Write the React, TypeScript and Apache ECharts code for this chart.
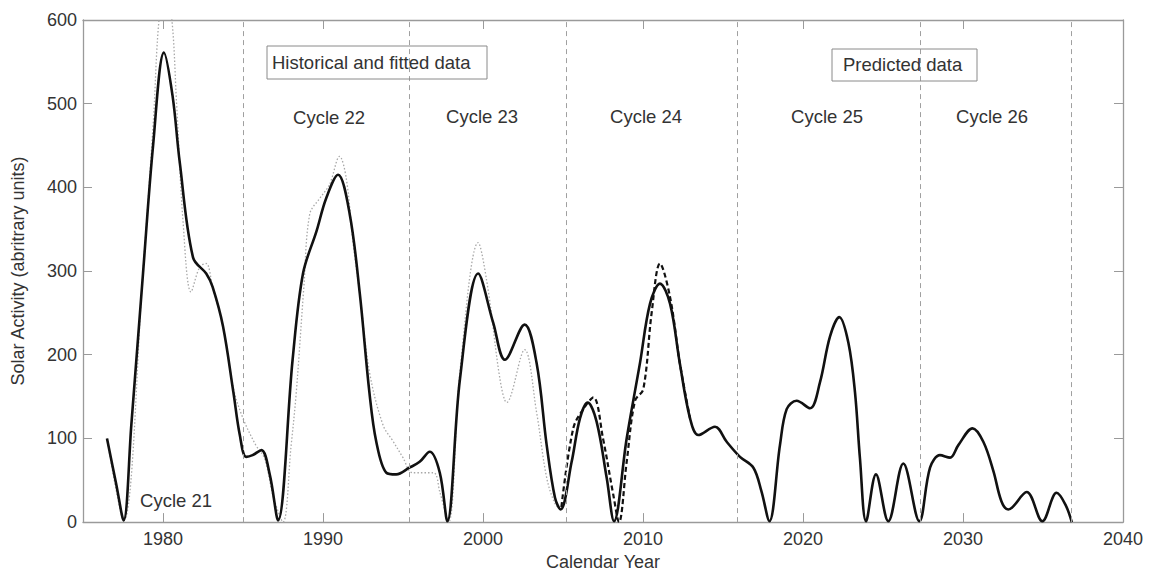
import React, { useEffect, useRef } from "react";
import * as echarts from "echarts";

const FONT = "'Liberation Sans', Arial, Helvetica, sans-serif";

const xTicks = [1980, 1990, 2000, 2010, 2020, 2030, 2040];
const cycleBoundaries = [1985.0, 1995.4, 2005.2, 2015.9, 2027.3, 2036.75];

// Main (fitted + predicted) solar activity curve
const mainYears = [
  1976.5, 1977.08, 1977.54, 1978.02, 1978.75, 1979.38, 1980.06, 1980.6, 1981.04, 1981.88,
  1982.7, 1983.1, 1983.75, 1984.4, 1984.8, 1985.2, 1985.6, 1986.15, 1986.67, 1987.19,
  1988.1, 1988.75, 1989.6, 1990.2, 1990.94, 1991.67, 1992.3, 1992.9, 1993.33, 1993.96,
  1994.58, 1995.4, 1996.04, 1996.67, 1997.3, 1997.77, 1998.56, 1999.7, 2000.64, 2001.37,
  2002.6, 2003.35, 2003.98, 2004.5, 2004.85, 2005.54, 2006.06, 2006.54, 2007.1, 2007.73,
  2008.19, 2008.98, 2009.81, 2010.44, 2011.06, 2011.69, 2012.3, 2012.94, 2013.46, 2014.5,
  2015.23, 2016.06, 2016.9, 2017.4, 2017.9, 2018.56, 2018.98, 2019.6, 2020.44, 2021.06,
  2021.69, 2022.27, 2022.84, 2023.25, 2023.56, 2023.94, 2024.56, 2025.33, 2026.27, 2027.27,
  2027.94, 2028.56, 2029.19, 2029.71, 2030.6, 2031.27, 2031.9, 2032.4, 2032.83, 2033.98,
  2034.96, 2035.85, 2036.4, 2036.8,
];
const mainValues = [
  100, 45, 2, 116, 297, 450, 561, 509, 431, 316,
  297, 281, 234, 155, 104, 78, 80, 86, 57, 2,
  194, 297, 348, 387, 415, 368, 273, 155, 96, 59,
  57, 65, 72, 84, 59, 1, 171, 297, 238, 194,
  236, 190, 92, 29, 15, 72, 124, 143, 120, 53,
  1, 100, 190, 261, 285, 261, 190, 124, 104, 114,
  96, 78, 65, 37, 1, 92, 135, 145, 136, 167,
  222, 245, 214, 155, 76, 1, 57, 1, 70, 1,
  65, 80, 77, 92, 112, 96, 61, 25, 15, 36,
  1, 35, 21, 0,
];

// Historical data (gray dotted), cycles 21-23
const histYears = [
  1976.5, 1977.54, 1978.75, 1979.4, 1979.75, 1980.1, 1980.5, 1980.85, 1981.25, 1981.75,
  1982.3, 1982.7, 1983.1, 1983.75, 1984.4, 1985.0, 1985.8, 1986.35, 1986.9, 1987.5,
  1988.0, 1988.33, 1988.8, 1989.17, 1989.8, 1990.4, 1991.04, 1991.46, 1991.9, 1992.3,
  1992.9, 1993.75, 1994.4, 1995.0, 1995.6, 1996.9, 1997.3, 1997.85, 1998.56, 1999.7,
  2000.3, 2001.06, 2001.48, 2002.6, 2003.35, 2003.98, 2004.5, 2004.85,
];
const histValues = [
  100, 2, 300, 480, 600, 625, 610, 500, 360, 275,
  305, 309, 281, 234, 160, 124, 92, 76, 30, 0,
  90, 155, 280, 368, 387, 403, 437, 410, 330, 273,
  180, 116, 96, 77, 59, 59, 36, 0, 180, 334,
  280, 171, 143, 206, 131, 53, 22, 15,
];

// Observed cycle 24 data (black dashed)
const obsYears = [
  2004.9, 2005.64, 2006.27, 2006.9, 2007.5, 2008.14, 2008.5, 2008.98, 2009.5, 2010.02,
  2010.54, 2011.06, 2011.69, 2012.3, 2012.94,
];
const obsValues = [
  18, 112, 135, 149, 100, 33, 0, 72, 145, 159,
  250, 309, 269, 190, 124,
];

const cycleLabels = ["Cycle 21", "Cycle 22", "Cycle 23", "Cycle 24", "Cycle 25", "Cycle 26"];

const zip = (xs: number[], ys: number[]) => xs.map((x, i) => [x, ys[i]]);

export default function App() {
  const ref = useRef<HTMLDivElement>(null);

  useEffect(() => {
    if (!ref.current) return;
    const chart = echarts.init(ref.current, null, { renderer: "svg" });
    const axisColor = "#9a9a9a";
    const textColor = "#333";

    const labelPos = [
      [176, 500],
      [329, 117],
      [482, 116],
      [646, 116],
      [827, 116],
      [992, 116],
    ];

    const option: any = {
      animation: false,
      backgroundColor: "#fff",
      grid: { left: 83, right: 28, top: 20, bottom: 48, containLabel: false },
      xAxis: [
        {
          type: "value",
          min: 1975,
          max: 2040,
          position: "bottom",
          axisLine: { show: true, onZero: false, lineStyle: { color: axisColor, width: 1.3 } },
          axisTick: { show: true, inside: true, length: 9, customValues: xTicks, lineStyle: { color: axisColor } },
          axisLabel: {
            customValues: xTicks,
            color: textColor,
            fontSize: 18,
            fontFamily: FONT,
            margin: 8,
            formatter: (v: number) => String(v),
          },
          splitLine: { show: false },
          name: "Calendar Year",
          nameLocation: "middle",
          nameGap: 29,
          nameTextStyle: { color: textColor, fontSize: 18, fontFamily: FONT },
        },
        {
          type: "value",
          min: 1975,
          max: 2040,
          position: "top",
          axisLine: { show: true, onZero: false, lineStyle: { color: axisColor, width: 1.3 } },
          axisTick: { show: true, inside: true, length: 9, customValues: xTicks, lineStyle: { color: axisColor } },
          axisLabel: { show: false },
          splitLine: { show: false },
        },
      ],
      yAxis: [
        {
          type: "value",
          min: 0,
          max: 600,
          interval: 100,
          position: "left",
          axisLine: { show: true, onZero: false, lineStyle: { color: axisColor, width: 1.3 } },
          axisTick: { show: true, inside: true, length: 9, lineStyle: { color: axisColor } },
          axisLabel: { color: textColor, fontSize: 18, fontFamily: FONT, margin: 6 },
          splitLine: { show: false },
          name: "Solar Activity (abritrary units)",
          nameLocation: "middle",
          nameGap: 56,
          nameTextStyle: { color: textColor, fontSize: 18, fontFamily: FONT },
        },
        {
          type: "value",
          min: 0,
          max: 600,
          interval: 100,
          position: "right",
          axisLine: { show: true, onZero: false, lineStyle: { color: axisColor, width: 1.3 } },
          axisTick: { show: true, inside: true, length: 9, lineStyle: { color: axisColor } },
          axisLabel: { show: false },
          splitLine: { show: false },
        },
      ],
      series: [
        {
          name: "Historical",
          type: "line",
          data: zip(histYears, histValues),
          symbol: "none",
          smooth: 0.35,
          clip: true,
          lineStyle: { color: "#a8a8a8", width: 1.3, type: [1.5, 2] },
          z: 2,
          markLine: {
            silent: true,
            symbol: ["none", "none"],
            label: { show: false },
            lineStyle: { color: "#a0a0a0", width: 1, type: [5, 4] },
            data: cycleBoundaries.map((v) => ({ xAxis: v })),
          },
        },
        {
          name: "Fitted and predicted",
          type: "line",
          data: zip(mainYears, mainValues),
          symbol: "none",
          smooth: 0.35,
          clip: true,
          lineStyle: { color: "#111", width: 2.6 },
          z: 3,
        },
        {
          name: "Observed",
          type: "line",
          data: zip(obsYears, obsValues),
          symbol: "none",
          smooth: 0.35,
          clip: true,
          lineStyle: { color: "#111", width: 2.2, type: [5, 3] },
          z: 4,
        },
      ],
      graphic: [
        {
          type: "rect",
          shape: { x: 267, y: 46, width: 220, height: 33 },
          style: { fill: "none", stroke: "#8a8a8a", lineWidth: 1 },
          z: 10,
        },
        {
          type: "text",
          x: 272,
          y: 62,
          style: {
            text: "Historical and fitted data",
            fill: textColor,
            font: `18.5px ${FONT}`,
            textAlign: "left",
            textVerticalAlign: "middle",
          },
          z: 10,
        },
        {
          type: "rect",
          shape: { x: 832, y: 49, width: 145, height: 32 },
          style: { fill: "none", stroke: "#8a8a8a", lineWidth: 1 },
          z: 10,
        },
        {
          type: "text",
          x: 843,
          y: 64,
          style: {
            text: "Predicted data",
            fill: textColor,
            font: `18.5px ${FONT}`,
            textAlign: "left",
            textVerticalAlign: "middle",
          },
          z: 10,
        },
        ...cycleLabels.map((t, i) => ({
          type: "text",
          x: labelPos[i][0],
          y: labelPos[i][1],
          style: {
            text: t,
            fill: textColor,
            font: `18.5px ${FONT}`,
            textAlign: "center",
            textVerticalAlign: "middle",
          },
          z: 10,
        })),
      ],
    };

    chart.setOption(option);
    return () => chart.dispose();
  }, []);

  return (
    <div
      ref={ref}
      style={{ position: "absolute", left: 0, top: 0, width: 1151, height: 576 }}
    />
  );
}
